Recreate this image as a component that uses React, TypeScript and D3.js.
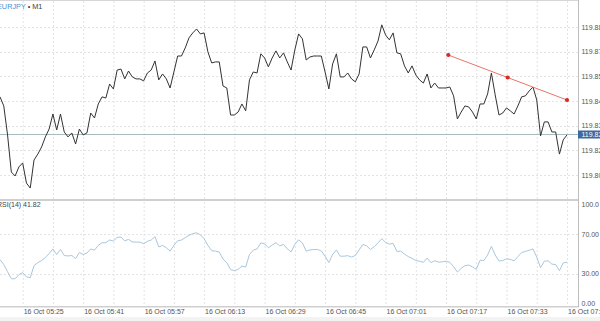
import React from "react";
import * as d3 from "d3";

const SYMBOL = "EURJPY";
const TIMEFRAME = "M1";
const START = new Date(2024, 9, 16, 5, 19);

const CLOSES = [
  119.8476, 119.843, 119.8283, 119.8095, 119.8075, 119.8121, 119.8141, 119.8039, 119.8014, 119.8156,
  119.8186, 119.8222, 119.8273, 119.8313, 119.8389, 119.8308, 119.8389, 119.8298, 119.8273, 119.8293,
  119.8237, 119.8313, 119.8283, 119.8293, 119.8394, 119.8369, 119.844, 119.8476, 119.847, 119.8541,
  119.8516, 119.8612, 119.8617, 119.8567, 119.8607, 119.8577, 119.8567, 119.8567, 119.8557, 119.8597,
  119.8612, 119.8658, 119.8562, 119.8592, 119.8567, 119.8521, 119.8602, 119.8683, 119.8683, 119.8724,
  119.8775, 119.88, 119.882, 119.8795, 119.88, 119.8704, 119.8648, 119.8653, 119.8653, 119.8531,
  119.8521, 119.8384, 119.8384, 119.8399, 119.844, 119.8405, 119.8562, 119.8602, 119.8597, 119.8694,
  119.8673, 119.8628, 119.8673, 119.8709, 119.8673, 119.8699, 119.8653, 119.8612, 119.8714, 119.8795,
  119.877, 119.8663, 119.8678, 119.8683, 119.8683, 119.8683, 119.8602, 119.8516, 119.8643, 119.8694,
  119.8577, 119.8577, 119.8597, 119.8567, 119.8552, 119.8592, 119.8729, 119.8729, 119.8673, 119.8714,
  119.8759, 119.8841, 119.879, 119.8765, 119.88, 119.8699, 119.8694, 119.8633, 119.8597, 119.8633,
  119.8587, 119.8562, 119.8546, 119.8592, 119.8521, 119.8546, 119.8521, 119.8521, 119.8521, 119.8526,
  119.8481, 119.8364, 119.8399, 119.843, 119.8425, 119.8399, 119.8364, 119.844, 119.844, 119.8491,
  119.8597, 119.8486, 119.8384, 119.8394, 119.842, 119.8405, 119.8389, 119.843, 119.8476, 119.8481,
  119.8506, 119.8526, 119.846, 119.8278, 119.8349, 119.8349, 119.8298, 119.8298, 119.8186, 119.8258,
  119.8283,
];

const RSI_VALUES = [
  44.4, 39.3, 32.1, 25.0, 25.0, 29.1, 31.1, 27.0, 26.0, 38.3,
  41.3, 43.4, 46.4, 50.5, 55.1, 49.5, 54.6, 48.5, 48.0, 48.5,
  45.4, 51.5, 49.5, 51.0, 55.1, 53.9, 58.7, 61.4, 61.4, 64.1,
  63.1, 66.8, 67.1, 63.3, 64.8, 62.2, 62.0, 62.0, 60.4, 62.8,
  64.1, 67.6, 57.1, 58.7, 56.3, 52.9, 58.7, 63.3, 64.1, 66.5,
  68.9, 70.6, 71.4, 69.4, 65.3, 58.7, 53.3, 52.9, 52.0, 44.9,
  41.3, 34.2, 33.2, 34.5, 37.8, 36.9, 49.5, 53.9, 55.1, 61.2,
  60.2, 56.3, 59.0, 61.4, 58.2, 59.7, 55.3, 52.0, 59.7, 64.3,
  61.2, 52.9, 54.1, 54.6, 54.6, 53.1, 47.8, 41.3, 49.5, 54.1,
  47.8, 47.8, 48.3, 46.9, 48.5, 54.1, 59.7, 58.2, 54.6, 57.3,
  61.2, 65.5, 61.7, 60.0, 60.7, 52.6, 52.9, 50.0, 47.4, 45.6,
  43.4, 42.7, 41.6, 45.9, 41.3, 43.2, 41.8, 42.1, 42.7, 41.6,
  37.2, 31.8, 35.5, 38.3, 38.8, 37.0, 34.5, 43.7, 43.4, 49.0,
  57.7, 49.0, 42.9, 43.4, 45.1, 44.6, 43.1, 47.4, 51.5, 52.6,
  53.8, 55.1, 46.9, 36.2, 42.7, 43.1, 39.8, 39.3, 33.2, 41.0,
  41.82,
];

const PRICE_TICKS = [119.808, 119.8205, 119.833, 119.8455, 119.858, 119.8705, 119.883];
const RSI_TICKS = [0, 30, 70, 100];
const RSI_TICK_LABELS = ["0.00", "30.00", "70.00", "100.0"];
const RSI_PERIOD = 14;

const TREND = [
  { time: new Date(2024, 9, 16, 7, 17, 36), price: 119.8688 },
  { time: new Date(2024, 9, 16, 7, 49, 0), price: 119.846 },
];

const W = 600;
const H = 321;
const AXIS_X = 578;
const MAIN_TOP = 0;
const MAIN_BOTTOM = 199;
const RSI_TOP = 201;
const RSI_BOTTOM = 306;
const FONT = "'Liberation Sans', Arial, sans-serif";

export default function App() {
  const times = CLOSES.map((_, i) => d3.timeMinute.offset(START, i));
  const x = d3
    .scaleTime()
    .domain([times[0], times[times.length - 1]])
    .range([0, 567]);
  const y = d3.scaleLinear().domain([119.808, 119.883]).range([175, 27]);
  const yR = d3.scaleLinear().domain([0, 100]).range([303.5, 204.5]);

  const priceLine = d3
    .line<number>()
    .x((_, i) => x(times[i]))
    .y((d) => y(d));
  const rsiLine = d3
    .line<number>()
    .x((_, i) => x(times[i]))
    .y((d) => yR(d));

  const gridStart = new Date(2024, 9, 16, 5, 25);
  const gridTimes = d3.range(0, 20).map((j) => d3.timeMinute.offset(gridStart, j * 8));
  const labelTimes = gridTimes.filter((_, j) => j % 2 === 0);
  const fmt = d3.timeFormat("%d %b %H:%M");

  const last = CLOSES[CLOSES.length - 1];
  const lastRsi = RSI_VALUES[RSI_VALUES.length - 1];
  const tx = TREND.map((p) => x(p.time));
  const ty = TREND.map((p) => y(p.price));
  const mid = { x: (tx[0] + tx[1]) / 2, y: (ty[0] + ty[1]) / 2 };

  return (
    <svg
      width={W}
      height={H}
      style={{ position: "fixed", left: 0, top: 0, background: "#fff", overflow: "hidden" }}
      fontFamily={FONT}
    >
      <rect x={0} y={0} width={W} height={H} fill="#fff" />
      <defs>
        <clipPath id="plotMain">
          <rect x={0} y={MAIN_TOP} width={AXIS_X} height={MAIN_BOTTOM - MAIN_TOP} />
        </clipPath>
        <clipPath id="plotRsi">
          <rect x={0} y={RSI_TOP} width={AXIS_X} height={RSI_BOTTOM - RSI_TOP} />
        </clipPath>
      </defs>

      {gridTimes.map((t, i) =>
        x(t) < AXIS_X ? (
          <g key={"vg" + i}>
            <line x1={x(t) + 0.5} x2={x(t) + 0.5} y1={MAIN_TOP + 1} y2={MAIN_BOTTOM} stroke="#e3e3e3" strokeDasharray="2,2" />
            <line x1={x(t) + 0.5} x2={x(t) + 0.5} y1={RSI_TOP + 1} y2={RSI_BOTTOM} stroke="#e3e3e3" strokeDasharray="2,2" />
          </g>
        ) : null
      )}
      {PRICE_TICKS.map((p, i) => (
        <line key={"hg" + i} x1={0} x2={AXIS_X} y1={Math.round(y(p)) + 0.5} y2={Math.round(y(p)) + 0.5} stroke="#e3e3e3" strokeDasharray="2,2" />
      ))}
      {[30, 70].map((v) => (
        <line key={"rg" + v} x1={0} x2={AXIS_X} y1={Math.round(yR(v)) + 0.5} y2={Math.round(yR(v)) + 0.5} stroke="#e3e3e3" strokeDasharray="2,2" />
      ))}

      <line x1={0} x2={AXIS_X} y1={0.5} y2={0.5} stroke="#d6d6d6" />
      <rect x={0} y={199} width={AXIS_X + 1} height={2} fill="#cfcfcf" />
      <rect x={0} y={306} width={AXIS_X + 1} height={1.5} fill="#cfcfcf" />
      <line x1={AXIS_X + 0.5} x2={AXIS_X + 0.5} y1={0} y2={307} stroke="#bdbdbd" />
      <rect x={0} y={317} width={W} height={4} fill="#f3f3f3" />

      <line x1={0} x2={AXIS_X} y1={Math.round(y(last)) - 0.5} y2={Math.round(y(last)) - 0.5} stroke="#a9bcbc" />

      <g clipPath="url(#plotMain)">
        <path d={priceLine(CLOSES) || ""} fill="none" stroke="#333" strokeWidth={1} strokeLinejoin="round" />
        <line x1={tx[0]} y1={ty[0]} x2={tx[1]} y2={ty[1]} stroke="#e8766a" strokeWidth={1} />
        {[{ x: tx[0], y: ty[0] }, mid, { x: tx[1], y: ty[1] }].map((p, i) => (
          <circle key={"td" + i} cx={p.x} cy={p.y} r={2.1} fill="#d42a2a" />
        ))}
      </g>

      <g clipPath="url(#plotRsi)">
        <path d={rsiLine(RSI_VALUES) || ""} fill="none" stroke="#a9c7dd" strokeWidth={1} strokeLinejoin="round" />
      </g>

      <text x={-3} y={8.5} fontSize={7.3} fill="#4a8fd6">
        {SYMBOL}
        <tspan fill="#444">{" \u2022 " + TIMEFRAME}</tspan>
      </text>
      <text x={-3} y={206.5} fontSize={7} fill="#444">
        {`RSI(${RSI_PERIOD}) ${lastRsi.toFixed(2)}`}
      </text>

      {PRICE_TICKS.map((p, i) => (
        <text key={"pl" + i} x={581.5} y={y(p) + 2.5} fontSize={7} fill="#555">
          {p.toFixed(3)}
        </text>
      ))}
      <rect x={AXIS_X} y={Math.round(y(last)) - 4.5} width={W - AXIS_X} height={8} fill="#3b6a9c" />
      <text x={581.5} y={Math.round(y(last)) + 2} fontSize={7} fill="#fff">
        {last.toFixed(3)}
      </text>

      {RSI_TICKS.map((v, i) => (
        <text key={"rl" + i} x={581.5} y={yR(v) + 2.5} fontSize={7} fill="#555">
          {RSI_TICK_LABELS[i]}
        </text>
      ))}

      {labelTimes.map((t, i) => (
        <text key={"tl" + i} x={x(t) + 1} y={313.5} fontSize={7} fill="#555">
          {fmt(t)}
        </text>
      ))}
    </svg>
  );
}
